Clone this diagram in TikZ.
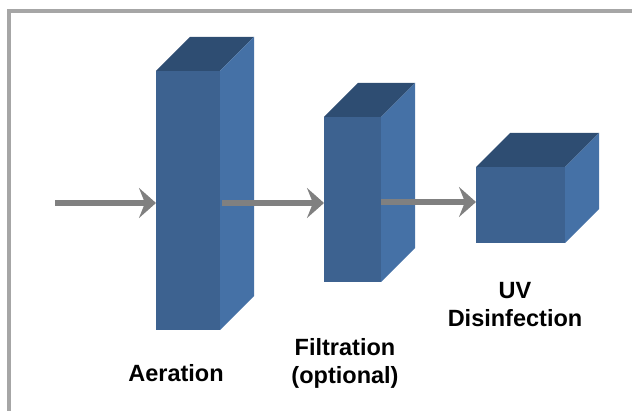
\documentclass[tikz,border=0pt]{standalone}
\usepackage{fontspec}
\setmainfont{Liberation Sans}
\usetikzlibrary{arrows.meta}
\definecolor{frontc}{HTML}{3D6290}
\definecolor{sidec}{HTML}{4571A6}
\definecolor{topc}{HTML}{2E4D72}
\definecolor{arrc}{HTML}{808080}
\definecolor{framec}{HTML}{A6A6A6}
\begin{document}
\begin{tikzpicture}[x=1pt,y=-1pt,
  front/.style={rectangle, fill=frontc, inner sep=0pt, outer sep=0pt},
  sidefill/.style={fill=sidec},
  topfill/.style={fill=topc},
  flow/.style={draw=arrc, line width=6pt, -{Stealth[length=17pt,width=30pt,inset=6pt]}},
  lbl/.style={font=\bfseries\fontsize{23.5}{28.5}\selectfont, align=center, inner sep=0pt}]
\useasboundingbox (0,0) rectangle (632,411);
\draw[framec, line width=4pt] (9,411) -- (9,11) -- (632,11);
% boxes
\node[front, minimum width=64pt, minimum height=259pt] (aer) at (188,200.5) {};
\node[front, minimum width=57pt, minimum height=165pt] (filt) at (352.5,199.5) {};
\node[front, minimum width=89pt, minimum height=76pt] (uv) at (520.5,205) {};
\foreach \b in {aer,filt,uv}{
  \fill[topfill] (\b.north west) -- ++(34,-34) -- ([shift={(34,-34)}]\b.north east) -- (\b.north east) -- cycle;
  \fill[sidefill] (\b.north east) -- ++(34,-34) -- ([shift={(34,-34)}]\b.south east) -- (\b.south east) -- cycle;
}
% arrows
\coordinate (src) at (55,203);
\draw[flow] (src) -- (src -| aer.west);
\coordinate (a2) at ([xshift=2pt]aer.east |- src);
\draw[flow] (a2) -- (a2 -| filt.west);
\coordinate (a3) at ([yshift=1pt]filt.east |- src);
\draw[flow] (a3) -- (a3 -| uv.west);
% labels
\node[lbl, anchor=base] (laer) at (176,382) {Aeration};
\node[lbl, anchor=base] (lfilt) at (345,384) {Filtration\\(optional)};
\node[lbl, anchor=base] (luv) at (515,327) {UV\\Disinfection};
\end{tikzpicture}
\end{document}
